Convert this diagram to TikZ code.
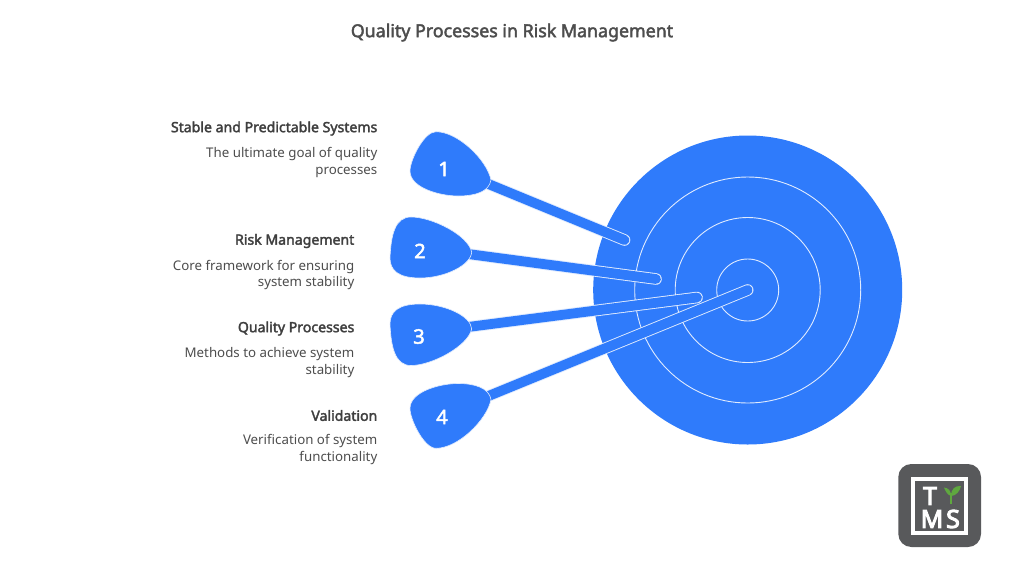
\documentclass[tikz,border=0pt]{standalone}
\usepackage{fontspec}
\setmainfont{Noto Sans}
\newfontfamily\heavy[FakeBold=2.4]{Noto Sans}
\newfontfamily\heavier[FakeBold=4]{Noto Sans}
\definecolor{dartblue}{HTML}{2F7BFB}
\definecolor{txtgrey}{HTML}{3F3F3F}
\definecolor{titlegrey}{HTML}{4D4D4D}
\definecolor{logogrey}{HTML}{58595B}
\definecolor{sprout}{HTML}{5FA83F}
\tikzset{
  ring/.style={draw=white!85!dartblue,line width=.9pt},
  flight/.style={fill=dartblue,draw=white!85!dartblue,line width=.6pt},
  numlabel/.style={text=white,font=\fontsize{20}{20}\selectfont\heavy,inner sep=0pt},
  headl/.style={anchor=east,inner sep=0pt,text=txtgrey,font=\fontsize{14.1}{15}\selectfont\heavy},
  descl/.style={anchor=north east,inner sep=0pt,align=right,text=titlegrey,font=\fontsize{13.3}{16.4}\selectfont},
  logoletter/.style={text=white,inner sep=0pt,font=\fontsize{25}{25}\selectfont\heavier}
}
\newcommand{\shaft}[2]{%
  \draw[white!85!dartblue,line width=11.6pt,line cap=round] (#1)--(#2);
  \draw[dartblue,line width=9.8pt,line cap=round] (#1)--(#2);}
\begin{document}
\begin{tikzpicture}[x=1pt,y=-1pt]
\useasboundingbox (0,0) rectangle (1024,576);
\fill[white] (0,0) rectangle (1024,576);
\node[inner sep=0pt,text=titlegrey,font=\fontsize{17.8}{20}\selectfont\heavy] (title) at (512,32.5) {Quality Processes in Risk Management};
% target
\coordinate (ctr) at (747.7,290);
\fill[dartblue] (ctr) circle[radius=154.5];
\draw[ring] (ctr) circle[radius=113];
\draw[ring] (ctr) circle[radius=72.5];
\draw[ring] (ctr) circle[radius=31];
% shafts
\coordinate (b1) at (486,183); \coordinate (t1) at (624.5,240);
\coordinate (b2) at (468,254); \coordinate (t2) at (656,279);
\coordinate (b3) at (468,327); \coordinate (t3) at (697,297.5);
\coordinate (b4) at (486,397); \coordinate (t4) at (747.7,290);
\shaft{b1}{t1}\shaft{b2}{t2}\shaft{b3}{t3}\shaft{b4}{t4}
% flights
\draw[flight] (491,180) .. controls (487,160) and (458,131.7) .. (436,131.7) .. controls (424,131.7) and (410,160) .. (410,171) .. controls (410,188) and (440,196) .. (458,196) .. controls (475,196) and (489,192) .. (491,180) -- cycle;
\draw[flight] (471.7,252) .. controls (468,235) and (432,217) .. (411,217) .. controls (395,217) and (391,235) .. (390,258) .. controls (390,270) and (398,278) .. (420,278) .. controls (445,278) and (471,265) .. (471.7,252) -- cycle;
\draw[flight] (471.7,329) .. controls (471,316) and (445,304) .. (420,304) .. controls (398,304) and (390,312) .. (390,324) .. controls (391,347) and (395,365.5) .. (411,365.5) .. controls (432,365.5) and (468,346) .. (471.7,329) -- cycle;
\draw[flight] (491,399.5) .. controls (489,388) and (475,383.5) .. (458,383.5) .. controls (440,383.5) and (410,391.5) .. (410,408.5) .. controls (410,419.5) and (424,448.3) .. (436,448.3) .. controls (458,448.3) and (487,420) .. (491,399.5) -- cycle;
\node[numlabel] (n1) at (444,169) {1};
\node[numlabel] (n2) at (420,251) {2};
\node[numlabel] (n3) at (419,336.5) {3};
\node[numlabel] (n4) at (442,417) {4};
% labels
\node[headl] (h1) at (377.5,128.5) {Stable and Predictable Systems};
\node[descl] (d1) at (377.5,147.3) {The ultimate goal of quality\\processes};
\node[headl] (h2) at (354.5,241) {Risk Management};
\node[descl] (d2) at (354.5,259.8) {Core framework for ensuring\\system stability};
\node[headl] (h3) at (354.5,328.5) {Quality Processes};
\node[descl] (d3) at (354.5,347.3) {Methods to achieve system\\stability};
\node[headl] (h4) at (377.5,415.5) {Validation};
\node[descl] (d4) at (377.5,434.3) {Verification of system\\functionality};
% logo
\fill[logogrey,rounded corners=13pt] (898.3,464) rectangle (981,547);
\draw[white,line width=3.4pt] (913,478.8) rectangle (966,533);
\node[logoletter] (lt) at (930,496) {T};
\node[logoletter] (lm) at (932,519) {M};
\node[logoletter] (ls) at (953,519) {S};
\draw[sprout,line width=2.6pt] (951,493) -- (951,504);
\fill[sprout] (951,496) .. controls (947,495) and (945,490) .. (944,487.5) .. controls (948,488) and (951,490) .. (951,496) -- cycle;
\fill[sprout] (951,496) .. controls (956,496) and (960,491) .. (961,486) .. controls (955,485.5) and (951,489) .. (951,496) -- cycle;
\end{tikzpicture}
\end{document}
